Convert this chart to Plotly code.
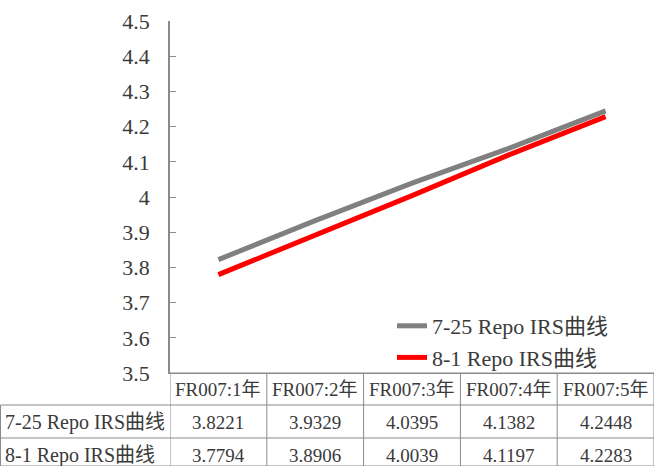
import plotly.graph_objects as go

# FR007 repo IRS curves, two fixing dates
tenors = ["FR007:1年", "FR007:2年", "FR007:3年", "FR007:4年", "FR007:5年"]
series_names = ["7-25 Repo IRS曲线", "8-1 Repo IRS曲线"]
irs_0725 = [3.8221, 3.9329, 4.0395, 4.1382, 4.2448]
irs_0801 = [3.7794, 3.8906, 4.0039, 4.1197, 4.2283]
y_ticks = [3.5, 3.6, 3.7, 3.8, 3.9, 4.0, 4.1, 4.2, 4.3, 4.4, 4.5]
y_ticktext = ["3.5", "3.6", "3.7", "3.8", "3.9", "4", "4.1", "4.2", "4.3", "4.4", "4.5"]

W, H = 654, 466
L, T, B = 170, 21, 373          # plot area edges in pixels
FONT = "'Liberation Serif', 'DejaVu Serif', 'Noto Sans CJK SC', serif"
TXT = "#3a3a3a"
GRID = "#8a8a8a"


def px_x(x):
    return (x - L) / (W - L)


def px_y(y):
    return (B - y) / (B - T)


fig = go.Figure()
fig.add_trace(go.Scatter(x=tenors, y=irs_0725, name=series_names[0], mode="lines",
                         line=dict(color="#808080", width=5)))
fig.add_trace(go.Scatter(x=tenors, y=irs_0801, name=series_names[1], mode="lines",
                         line=dict(color="#ff0000", width=5)))

# data table under the plot
row_top = [373, 405, 438]
row_bot = [405, 438, 466]
row_mid = [389.5, 422, 455]

shapes = []
# horizontal rules
shapes.append(dict(type="line", xref="paper", yref="paper", x0=0, x1=1,
                   y0=px_y(row_top[0]), y1=px_y(row_top[0])))
for yb in row_bot:
    shapes.append(dict(type="line", xref="paper", yref="paper", x0=px_x(0.5), x1=1,
                       y0=px_y(yb), y1=px_y(yb)))
# vertical rules between tenor columns
for i in range(len(tenors) + 1):
    shapes.append(dict(type="line", xref="x", yref="paper", x0=i - 0.5, x1=i - 0.5,
                       y0=px_y(row_top[0]), y1=px_y(H)))
# left edge of the series-name column
shapes.append(dict(type="line", xref="paper", yref="paper", x0=px_x(0.5), x1=px_x(0.5),
                   y0=px_y(row_top[1]), y1=px_y(H)))
for s in shapes:
    s["line"] = dict(color=GRID, width=1)

annotations = []
for t in tenors:
    annotations.append(dict(x=t, xref="x", y=px_y(row_mid[0]), yref="paper", text=t,
                            showarrow=False, xanchor="center", yanchor="middle",
                            font=dict(family=FONT, size=19, color=TXT)))
for r, (name, vals) in enumerate(zip(series_names, [irs_0725, irs_0801]), start=1):
    annotations.append(dict(x=px_x(3), xref="paper", y=px_y(row_mid[r]), yref="paper",
                            text=name, showarrow=False, xanchor="left", yanchor="middle",
                            font=dict(family=FONT, size=20, color=TXT)))
    for t, v in zip(tenors, vals):
        annotations.append(dict(x=t, xref="x", y=px_y(row_mid[r]), yref="paper",
                                text=f"{v:.4f}", showarrow=False,
                                xanchor="center", yanchor="middle",
                                font=dict(family=FONT, size=19, color=TXT)))

fig.update_layout(
    width=W, height=H,
    margin=dict(l=L, r=0, t=T, b=H - B),
    paper_bgcolor="white", plot_bgcolor="white",
    font=dict(family=FONT, color=TXT),
    xaxis=dict(type="category", range=[-0.5, 4.5], showticklabels=False, showgrid=False,
               showline=True, linecolor=GRID, linewidth=1, ticks="", zeroline=False),
    yaxis=dict(range=[3.5, 4.5], tickvals=y_ticks, ticktext=y_ticktext, showgrid=False,
               zeroline=False, showline=True, linecolor=GRID, linewidth=1.5,
               ticks="inside", ticklen=6, tickcolor=GRID, tickwidth=1,
               ticklabelstandoff=14, tickfont=dict(family=FONT, size=22, color=TXT)),
    legend=dict(x=px_x(392), xanchor="left", y=px_y(305), yanchor="top",
                bgcolor="rgba(0,0,0,0)", font=dict(family=FONT, size=22, color=TXT),
                itemwidth=30, tracegroupgap=0),
    shapes=shapes,
    annotations=annotations,
    showlegend=True,
)

fig.write_html("out.html")
